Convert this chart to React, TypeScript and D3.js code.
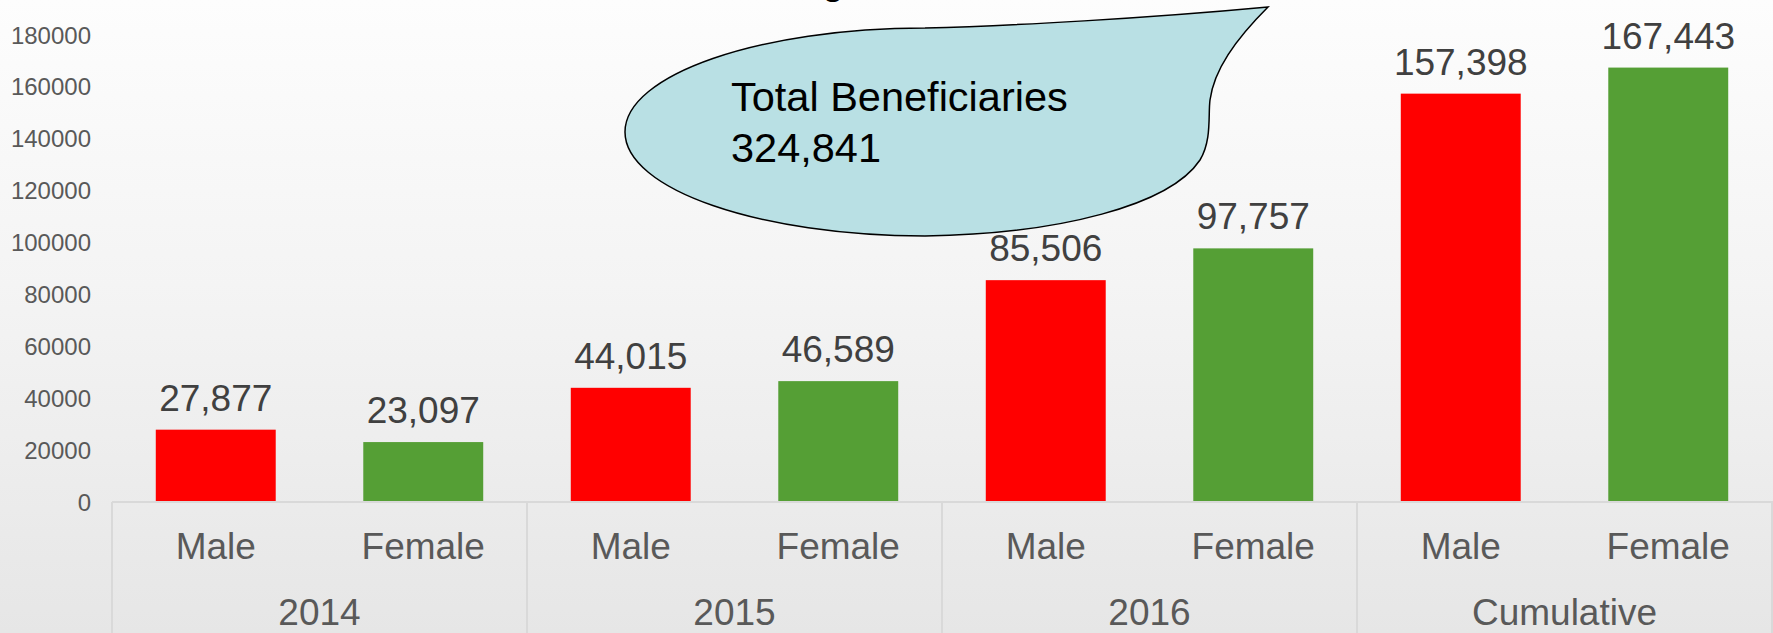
import * as d3 from 'd3';

const groups = ['2014', '2015', '2016', 'Cumulative'];
const genders = ['Male', 'Female'];
const values = [27877, 23097, 44015, 46589, 85506, 97757, 157398, 167443];
const yTicks = [0, 20000, 40000, 60000, 80000, 100000, 120000, 140000, 160000, 180000];
const calloutLines = ['Total Beneficiaries', '324,841'];

const COLORS: Record<string, string> = { Male: '#FF0000', Female: '#559F35' };
const FONT = '"Liberation Sans", Arial, sans-serif';

const W = 1773;
const H = 633;
const margin = { top: 35, left: 112, right: 1, bottom: 131 };

export default function App() {
  const baseY = H - margin.bottom;

  const rows = values.map((v, i) => ({
    key: i,
    group: groups[Math.floor(i / genders.length)],
    gender: genders[i % genders.length],
    value: v,
  }));

  const x = d3.scaleBand<number>()
    .domain(rows.map(d => d.key))
    .range([margin.left, W - margin.right])
    .paddingInner(0.422)
    .paddingOuter(0.211);

  const gx = d3.scaleBand<string>()
    .domain(groups)
    .range([margin.left, W - margin.right]);

  const y = d3.scaleLinear()
    .domain([0, 180000])
    .range([baseY, margin.top]);

  const fmt = d3.format(',');

  // speech bubble outline: half ellipse on the left, tail up to the right
  const k = 0.5523;
  const cx = 925, cy = 132, rx = 300, ry = 104;
  const bubble = d3.path();
  bubble.moveTo(1268, 7);
  bubble.bezierCurveTo(1150, 18, 1010, 26, cx, cy - ry);
  bubble.bezierCurveTo(cx - k * rx, cy - ry, cx - rx, cy - k * ry, cx - rx, cy);
  bubble.bezierCurveTo(cx - rx, cy + k * ry, cx - k * rx, cy + ry, cx, cy + ry);
  bubble.bezierCurveTo(1060, 234, 1170, 205, 1200, 160);
  bubble.bezierCurveTo(1212, 140, 1208, 115, 1210, 100);
  bubble.bezierCurveTo(1214, 70, 1235, 40, 1268, 7);
  bubble.closePath();

  return (
    <svg
      width={W}
      height={H}
      style={{ position: 'absolute', left: 0, top: 0, display: 'block' }}
      fontFamily={FONT}
    >
      <defs>
        <linearGradient id="bg" x1="0" y1="0" x2="0" y2="1">
          <stop offset="0" stopColor="#fdfdfd" />
          <stop offset="0.45" stopColor="#f4f4f4" />
          <stop offset="1" stopColor="#e6e6e6" />
        </linearGradient>
      </defs>
      <rect x={0} y={0} width={W} height={H} fill="url(#bg)" />

      {/* clipped title fragment at the very top */}
      <text x={822} y={-6} fontSize={40} fill="#000">g</text>

      {/* y axis labels */}
      {yTicks.map(t => (
        <text
          key={t}
          x={91}
          y={y(t)}
          textAnchor="end"
          dominantBaseline="central"
          fontSize={24}
          fill="#595959"
        >
          {t}
        </text>
      ))}

      {/* bars */}
      {rows.map(d => (
        <rect
          key={d.key}
          x={x(d.key)}
          y={y(d.value)}
          width={x.bandwidth()}
          height={baseY - y(d.value)}
          fill={COLORS[d.gender]}
        />
      ))}

      {/* value labels */}
      {rows.map(d => (
        <text
          key={d.key}
          x={(x(d.key) ?? 0) + x.bandwidth() / 2}
          y={y(d.value) - 19}
          textAnchor="middle"
          fontSize={37}
          fill="#404040"
        >
          {fmt(d.value)}
        </text>
      ))}

      {/* category axis */}
      <line x1={margin.left} x2={W} y1={baseY} y2={baseY} stroke="#d9d9d9" strokeWidth={2} />
      {groups.map(g => (
        <line
          key={g}
          x1={gx(g)}
          x2={gx(g)}
          y1={baseY}
          y2={H}
          stroke="#d9d9d9"
          strokeWidth={2}
        />
      ))}
      <line x1={W - margin.right} x2={W - margin.right} y1={baseY} y2={H} stroke="#d9d9d9" strokeWidth={2} />

      {rows.map(d => (
        <text
          key={d.key}
          x={(x(d.key) ?? 0) + x.bandwidth() / 2}
          y={559}
          textAnchor="middle"
          fontSize={37}
          fill="#595959"
        >
          {d.gender}
        </text>
      ))}
      {groups.map(g => (
        <text
          key={g}
          x={(gx(g) ?? 0) + gx.bandwidth() / 2}
          y={625}
          textAnchor="middle"
          fontSize={37}
          fill="#595959"
        >
          {g}
        </text>
      ))}

      {/* callout */}
      <path d={bubble.toString()} fill="#B9E0E4" stroke="#000" strokeWidth={1.5} />
      {calloutLines.map((t, i) => (
        <text key={t} x={731} y={111 + i * 51} fontSize={41.5} fill="#000">
          {t}
        </text>
      ))}
    </svg>
  );
}
